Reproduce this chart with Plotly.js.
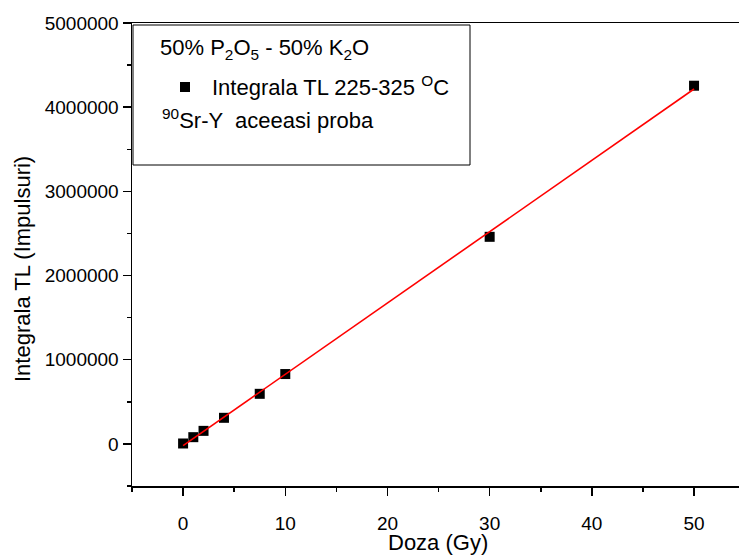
<!DOCTYPE html>
<html>
<head>
<meta charset="utf-8">
<script src="https://cdn.plot.ly/plotly-3.0.1.min.js"></script>
<style>html,body{margin:0;padding:0;background:#fff;}#chart{width:739px;height:557px;}</style>
</head>
<body>
<div id="chart"></div>
<script>
// Data
const doza = [0, 1, 2, 4, 7.5, 10, 30, 50];               // Gy
const integrala = [5000, 80000, 155000, 310000, 595000, 830000, 2460000, 4255000]; // impulses
const seriesName = 'Integrala TL 225-325 <sup>O</sup>C';
const xTitle = 'Doza (Gy)';
const yTitle = 'Integrala TL (Impulsuri)';
const legendLine1 = '50% P<sub>2</sub>O<sub>5</sub> - 50% K<sub>2</sub>O';
const legendLine3 = '<sup>90</sup>Sr-Y  aceeasi proba';

// Linear least-squares fit of the data
function linearFit(xs, ys) {
  const n = xs.length;
  let sx = 0, sy = 0, sxx = 0, sxy = 0;
  for (let i = 0; i < n; i++) { sx += xs[i]; sy += ys[i]; sxx += xs[i]*xs[i]; sxy += xs[i]*ys[i]; }
  const b = (n*sxy - sx*sy) / (n*sxx - sx*sx);
  const a = (sy - b*sx) / n;
  return {a, b};
}
const fit = linearFit(doza, integrala);
const fitX = [Math.min(...doza), Math.max(...doza)];
const fitY = fitX.map(x => fit.a + fit.b*x);

// pixel -> paper helpers (plot area: x 132..739, y 23..486)
const L = 132, R = 739, T = 23, B = 486;
const px = x => (x - L) / (R - L);
const py = y => (B - y) / (B - T);

const FONT = 'Liberation Sans, Arial, sans-serif';

const traces = [
  {
    x: doza, y: integrala, type: 'scatter', mode: 'markers', name: seriesName,
    marker: {symbol: 'square', size: 10, color: '#000'}, cliponaxis: false
  },
  {
    x: fitX, y: fitY, type: 'scatter', mode: 'lines', name: 'fit',
    line: {color: '#ff0000', width: 1.6}
  }
];

const layout = {
  width: 739, height: 557,
  margin: {l: L, r: 0, t: T, b: 557 - B, pad: 0},
  paper_bgcolor: '#fff', plot_bgcolor: '#fff',
  showlegend: false,
  font: {family: FONT, color: '#000', size: 19},
  xaxis: {
    range: [-5, 54.4], tick0: 0, dtick: 10,
    showgrid: false, zeroline: false,
    showline: true, linecolor: '#000', linewidth: 1.5, mirror: true,
    ticks: 'outside', ticklen: 8, tickwidth: 1.5, tickcolor: '#000',
    minor: {dtick: 5, ticks: 'outside', ticklen: 4, tickwidth: 1.5, tickcolor: '#000'},
    tickfont: {family: FONT, size: 19, color: '#000'},
    ticklabelstandoff: 12
  },
  yaxis: {
    range: [-500000, 5000000], tick0: 0, dtick: 1000000, tickformat: 'd',
    showgrid: false, zeroline: false,
    showline: true, linecolor: '#000', linewidth: 1.5, mirror: false,
    ticks: 'outside', ticklen: 8, tickwidth: 1.5, tickcolor: '#000',
    minor: {dtick: 500000, ticks: 'outside', ticklen: 4, tickwidth: 1.5, tickcolor: '#000'},
    tickfont: {family: FONT, size: 19, color: '#000'},
    ticklabelstandoff: 0
  },
  shapes: [
    {type: 'rect', xref: 'paper', yref: 'paper', x0: px(133), x1: px(470), y0: py(165), y1: py(25),
     line: {color: '#000', width: 1}, fillcolor: 'rgba(0,0,0,0)'},
    {type: 'rect', xref: 'paper', yref: 'paper', x0: px(180), x1: px(190), y0: py(92), y1: py(82),
     line: {color: '#000', width: 0}, fillcolor: '#000'}
  ],
  annotations: [
    {text: xTitle, xref: 'paper', yref: 'paper', x: px(438), y: py(542), xanchor: 'center', yanchor: 'middle',
     showarrow: false, font: {family: FONT, size: 22, color: '#000'}},
    {text: yTitle, xref: 'paper', yref: 'paper', x: px(22), y: py(269), xanchor: 'center', yanchor: 'middle',
     textangle: -90, showarrow: false, font: {family: FONT, size: 22, color: '#000'}},
    {text: legendLine1, xref: 'paper', yref: 'paper', x: px(158), y: py(49), xanchor: 'left', yanchor: 'middle',
     showarrow: false, font: {family: FONT, size: 22, color: '#000'}},
    {text: seriesName, xref: 'paper', yref: 'paper', x: px(210), y: py(86), xanchor: 'left', yanchor: 'middle',
     showarrow: false, font: {family: FONT, size: 22, color: '#000'}},
    {text: legendLine3, xref: 'paper', yref: 'paper', x: px(160), y: py(119), xanchor: 'left', yanchor: 'middle',
     showarrow: false, font: {family: FONT, size: 22, color: '#000'}}
  ]
};

Plotly.newPlot('chart', traces, layout, {displayModeBar: false, staticPlot: true});
</script>
</body>
</html>
